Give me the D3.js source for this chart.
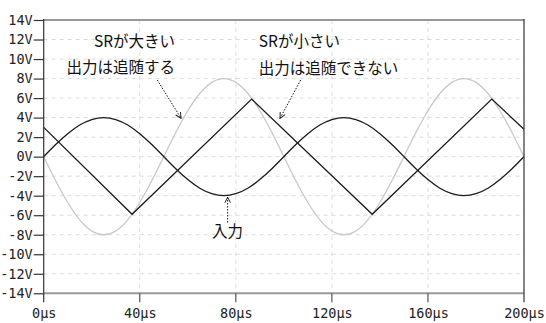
<!DOCTYPE html>
<html><head><meta charset="utf-8">
<script src="https://cdn.jsdelivr.net/npm/d3@7/dist/d3.min.js"></script>
<style>body{margin:0;background:#fff}svg{display:block}</style>
</head><body><svg id="c" width="546" height="323"></svg>
<script>
// time axis samples (µs)
const times = [0,5,10,15,20,25,30,35,40,45,50,55,60,65,70,75,80,85,90,95,100,105,110,115,120,125,130,135,140,145,150,155,160,165,170,175,180,185,190,195,200];
// 入力 (input), V
const inputV = [0,1.24,2.35,3.24,3.80,4.00,3.80,3.24,2.35,1.24,0,-1.24,-2.35,-3.24,-3.80,-4.00,-3.80,-3.24,-2.35,-1.24,0,1.24,2.35,3.24,3.80,4.00,3.80,3.24,2.35,1.24,0,-1.24,-2.35,-3.24,-3.80,-4.00,-3.80,-3.24,-2.35,-1.24,0];
// ideal output (gray), V
const idealV = [0,-2.47,-4.70,-6.47,-7.61,-8.00,-7.61,-6.47,-4.70,-2.47,0,2.47,4.70,6.47,7.61,8.00,7.61,6.47,4.70,2.47,0,-2.47,-4.70,-6.47,-7.61,-8.00,-7.61,-6.47,-4.70,-2.47,0,2.47,4.70,6.47,7.61,8.00,7.61,6.47,4.70,2.47,0];
// slew-limited output (triangle)
const slewT = [0,36.8,86.6,136.8,186.6,200];
const slewV = [3.0,-5.9,5.9,-5.9,5.9,2.8];
// ticks
const yTicks = [14,12,10,8,6,4,2,0,-2,-4,-6,-8,-10,-12,-14];
const xTicks = [0,40,80,120,160,200];
const xGrid = [40,80,120,160];
// annotations
const labels = [
  {t:54.7, v:11.28, text:"SRが大きい", anchor:"end"},
  {t:54.7, v:8.62, text:"出力は追随する", anchor:"end"},
  {t:89.6, v:11.28, text:"SRが小さい", anchor:"start"},
  {t:89.6, v:8.42, text:"出力は追随できない", anchor:"start"},
  {t:76.5, v:-8.23, text:"入力", anchor:"middle"}
];
const arrows = [
  {t0:47.3, v0:7.85, t1:57.2, v1:3.93},
  {t0:107.0, v0:7.85, t1:98.4, v1:3.93},
  {t0:76.6, v0:-6.75, t1:76.6, v1:-4.15}
];

const svg = d3.select("#c");
const L = 43.7, R = 524, T = 20, B = 293.3;
const x = d3.scaleLinear().domain([0,200]).range([L,R]);
const y = d3.scaleLinear().domain([-14,14]).range([B,T]);

// grid
const g = svg.append("g");
g.selectAll("line.h").data(yTicks.filter(d=>d!==14 && d!==-14)).join("line")
  .attr("x1",L).attr("x2",R).attr("y1",d=>y(d)).attr("y2",d=>y(d))
  .attr("stroke","#dcdcdc").attr("stroke-width",1).attr("stroke-dasharray","4,4");
g.selectAll("line.v").data(xGrid).join("line")
  .attr("x1",d=>x(d)).attr("x2",d=>x(d)).attr("y1",T).attr("y2",B)
  .attr("stroke","#dcdcdc").attr("stroke-width",1).attr("stroke-dasharray","4,4");

// lines
const line = d3.line().x(d=>x(d[0])).y(d=>y(d[1]));
const smooth = d3.line().x(d=>x(d[0])).y(d=>y(d[1])).curve(d3.curveNatural);
svg.append("path").datum(times.map((t,i)=>[t,idealV[i]])).attr("d",smooth)
  .attr("fill","none").attr("stroke","#c8c8c8").attr("stroke-width",1.3);
svg.append("path").datum(times.map((t,i)=>[t,inputV[i]])).attr("d",smooth)
  .attr("fill","none").attr("stroke","#1a1a1a").attr("stroke-width",1.3);
svg.append("path").datum(slewT.map((t,i)=>[t,slewV[i]])).attr("d",line)
  .attr("fill","none").attr("stroke","#1a1a1a").attr("stroke-width",1.3);

// frame
svg.append("line").attr("x1",L).attr("x2",R).attr("y1",T).attr("y2",T).attr("stroke","#999").attr("stroke-width",2);
svg.append("line").attr("x1",L).attr("x2",R).attr("y1",B).attr("y2",B).attr("stroke","#999").attr("stroke-width",2);
svg.append("line").attr("x1",R).attr("x2",R).attr("y1",T-1).attr("y2",B+9).attr("stroke","#333").attr("stroke-width",1.2);
svg.append("line").attr("x1",L).attr("x2",L).attr("y1",T-1).attr("y2",B+9).attr("stroke","#333").attr("stroke-width",1.2);

// y axis
const ya = d3.axisLeft(y).tickValues(yTicks).tickFormat(d=>d+"V").tickSize(10).tickPadding(1);
const yg = svg.append("g").attr("transform",`translate(${L},0)`).call(ya);
yg.select(".domain").remove();
yg.selectAll(".tick line").attr("stroke","#333").attr("stroke-width",1.2);
yg.selectAll(".tick text").attr("font-family","DejaVu Sans Mono").attr("font-size",13.5).attr("fill","#222");

// x axis
const xa = d3.axisBottom(x).tickValues(xTicks).tickFormat(d=>d+"µs").tickSize(0).tickPadding(15);
const xg = svg.append("g").attr("transform",`translate(0,${B})`).call(xa);
xg.select(".domain").remove();
xg.selectAll(".tick text").attr("font-family","DejaVu Sans Mono").attr("font-size",13.5).attr("fill","#222");
svg.selectAll("line.xt").data(xTicks.slice(1,-1)).join("line")
  .attr("x1",d=>x(d)).attr("x2",d=>x(d)).attr("y1",B).attr("y2",B+9)
  .attr("stroke","#555").attr("stroke-width",1.2);

// arrow marker
svg.append("defs").append("marker").attr("id","ah").attr("viewBox","0 0 10 10")
  .attr("refX",9).attr("refY",5).attr("markerWidth",7).attr("markerHeight",7)
  .attr("markerUnits","userSpaceOnUse").attr("orient","auto")
  .append("path").attr("d","M1,1 L9,5 L1,9").attr("fill","none").attr("stroke","#111").attr("stroke-width",1.3);
svg.selectAll("line.arr").data(arrows).join("line")
  .attr("x1",d=>x(d.t0)).attr("y1",d=>y(d.v0)).attr("x2",d=>x(d.t1)).attr("y2",d=>y(d.v1))
  .attr("stroke","#111").attr("stroke-width",1).attr("stroke-dasharray","1.5,1.5")
  .attr("marker-end","url(#ah)");

// labels
svg.selectAll("text.lab").data(labels).join("text")
  .attr("x",d=>x(d.t)).attr("y",d=>y(d.v)).attr("text-anchor",d=>d.anchor)
  .attr("font-family","'Noto Sans CJK JP', sans-serif").attr("font-size",15.5).attr("fill","#111")
  .text(d=>d.text);
</script></body></html>
